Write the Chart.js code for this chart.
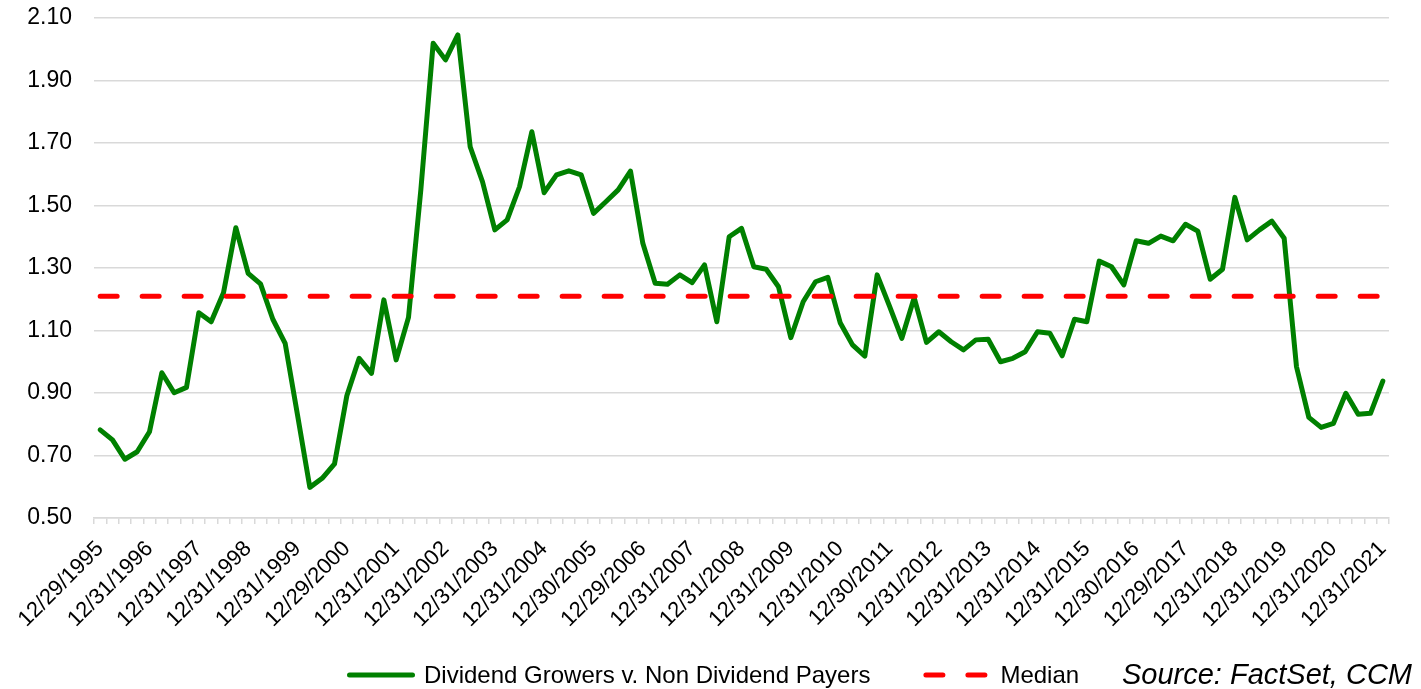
<!DOCTYPE html>
<html>
<head>
<meta charset="utf-8">
<script src="https://cdn.jsdelivr.net/npm/chart.js@4"></script>
<style>
  body { margin: 0; background: #fff; }
  #wrap { width: 1421px; height: 689px; position: relative; }
</style>
</head>
<body>
<div id="wrap"><canvas id="myChart"></canvas></div>
<script>
// year-end dates shown on the x axis (one every 4 quarters)
const yearEndLabels = [
  '12/29/1995', '12/31/1996', '12/31/1997', '12/31/1998', '12/31/1999', '12/29/2000',
  '12/31/2001', '12/31/2002', '12/31/2003', '12/31/2004', '12/30/2005', '12/29/2006',
  '12/31/2007', '12/31/2008', '12/31/2009', '12/31/2010', '12/30/2011', '12/31/2012',
  '12/31/2013', '12/31/2014', '12/31/2015', '12/30/2016', '12/29/2017', '12/31/2018',
  '12/31/2019', '12/31/2020', '12/31/2021'
];

// quarterly ratio, Dividend Growers v. Non Dividend Payers
const growersRatio = [
  0.782, 0.750, 0.688, 0.712, 0.776, 0.965, 0.901, 0.918, 1.157, 1.128,
  1.221, 1.429, 1.283, 1.249, 1.136, 1.059, 0.830, 0.598, 0.627, 0.673,
  0.891, 1.011, 0.963, 1.198, 1.006, 1.142, 1.550, 2.019, 1.966, 2.046,
  1.688, 1.576, 1.422, 1.454, 1.560, 1.736, 1.541, 1.598, 1.611, 1.598,
  1.475, 1.512, 1.550, 1.610, 1.379, 1.251, 1.248, 1.278, 1.253, 1.310,
  1.128, 1.400, 1.427, 1.304, 1.296, 1.240, 1.077, 1.192, 1.256, 1.270,
  1.125, 1.054, 1.018, 1.278, 1.178, 1.075, 1.205, 1.062, 1.096, 1.064,
  1.038, 1.070, 1.072, 1.000, 1.011, 1.032, 1.096, 1.091, 1.019, 1.136,
  1.128, 1.322, 1.304, 1.246, 1.387, 1.379, 1.402, 1.387, 1.440, 1.418,
  1.264, 1.296, 1.526, 1.390, 1.422, 1.450, 1.395, 0.984, 0.822, 0.790,
  0.803, 0.899, 0.832, 0.835, 0.938
];

const medianValue = 1.21;

const yTicks = [0.50, 0.70, 0.90, 1.10, 1.30, 1.50, 1.70, 1.90, 2.10];

const sourceText = 'Source: FactSet, CCM';

// one category per quarter, only the year-end ones carry a label
let quarters = [];
growersRatio.forEach((v, i) => {
  quarters.push(i % 4 === 0 ? yearEndLabels[i / 4] : '');
});
let medianLine = quarters.map(() => medianValue);

Chart.defaults.font.family = "'Liberation Sans', Arial, sans-serif";
Chart.defaults.color = '#000';

const gridColor = '#d9d9d9';

// legend row + source note under the axis labels
const bottomLegend = {
  id: 'bottomLegend',
  afterDraw(chart) {
    const ctx = chart.ctx;
    const y = 675;
    let x = 347;
    ctx.save();
    ctx.font = "24px 'Liberation Sans', Arial, sans-serif";
    ctx.textBaseline = 'middle';
    const items = [chart.data.datasets[1], chart.data.datasets[0]];
    items.forEach((ds, k) => {
      ctx.beginPath();
      ctx.strokeStyle = ds.borderColor;
      ctx.lineWidth = 5;
      ctx.lineCap = 'round';
      ctx.setLineDash(ds.borderDash || []);
      ctx.moveTo(x + 2.5, y);
      ctx.lineTo(x + 65.5, y);
      ctx.stroke();
      ctx.setLineDash([]);
      x += 77;
      ctx.fillStyle = '#000';
      ctx.textAlign = 'left';
      ctx.fillText(ds.label, x, y + 1);
      x += ctx.measureText(ds.label).width + 53;
    });
    ctx.font = "italic 29px 'Liberation Sans', Arial, sans-serif";
    ctx.textAlign = 'right';
    ctx.fillText(sourceText, chart.width - 9, y + 1);
    ctx.restore();
  }
};

new Chart(document.getElementById('myChart'), {
  type: 'line',
  data: {
    labels: quarters,
    datasets: [
      {
        label: 'Median',
        data: medianLine,
        borderColor: '#ff0000',
        borderWidth: 5,
        borderDash: [17, 25],
        borderCapStyle: 'round',
        pointRadius: 0,
        fill: false,
        order: 0
      },
      {
        label: 'Dividend Growers v. Non Dividend Payers',
        data: growersRatio,
        borderColor: '#008000',
        borderWidth: 5,
        borderJoinStyle: 'round',
        borderCapStyle: 'round',
        pointRadius: 0,
        tension: 0,
        fill: false,
        order: 1
      }
    ]
  },
  options: {
    responsive: true,
    maintainAspectRatio: false,
    animation: false,
    layout: { padding: { top: 18, right: 32, bottom: 0, left: 0 } },
    plugins: {
      legend: { display: false },
      tooltip: { enabled: false }
    },
    scales: {
      x: {
        offset: true,
        grid: {
          offset: true,
          drawOnChartArea: false,
          drawTicks: true,
          tickLength: 6,
          color: gridColor,
          lineWidth: 1.5
        },
        border: { display: true, color: gridColor, width: 1.5 },
        ticks: {
          autoSkip: false,
          minRotation: 45,
          maxRotation: 45,
          padding: 12,
          font: { size: 22 }
        },
        afterFit(scale) { scale.height = 171; }
      },
      y: {
        min: yTicks[0],
        max: yTicks[yTicks.length - 1],
        afterBuildTicks(scale) {
          scale.ticks = yTicks.map(v => ({ value: v }));
        },
        // invisible tick marks keep the labels away from the plot
        grid: { color: gridColor, lineWidth: 1.5, drawTicks: true, tickLength: 22, tickColor: 'rgba(0,0,0,0)' },
        border: { display: false },
        ticks: {
          padding: 0,
          font: { size: 23 },
          callback: v => v.toFixed(2)
        },
        afterFit(scale) { scale.width = 94; }
      }
    }
  },
  plugins: [bottomLegend]
});
</script>
</body>
</html>
